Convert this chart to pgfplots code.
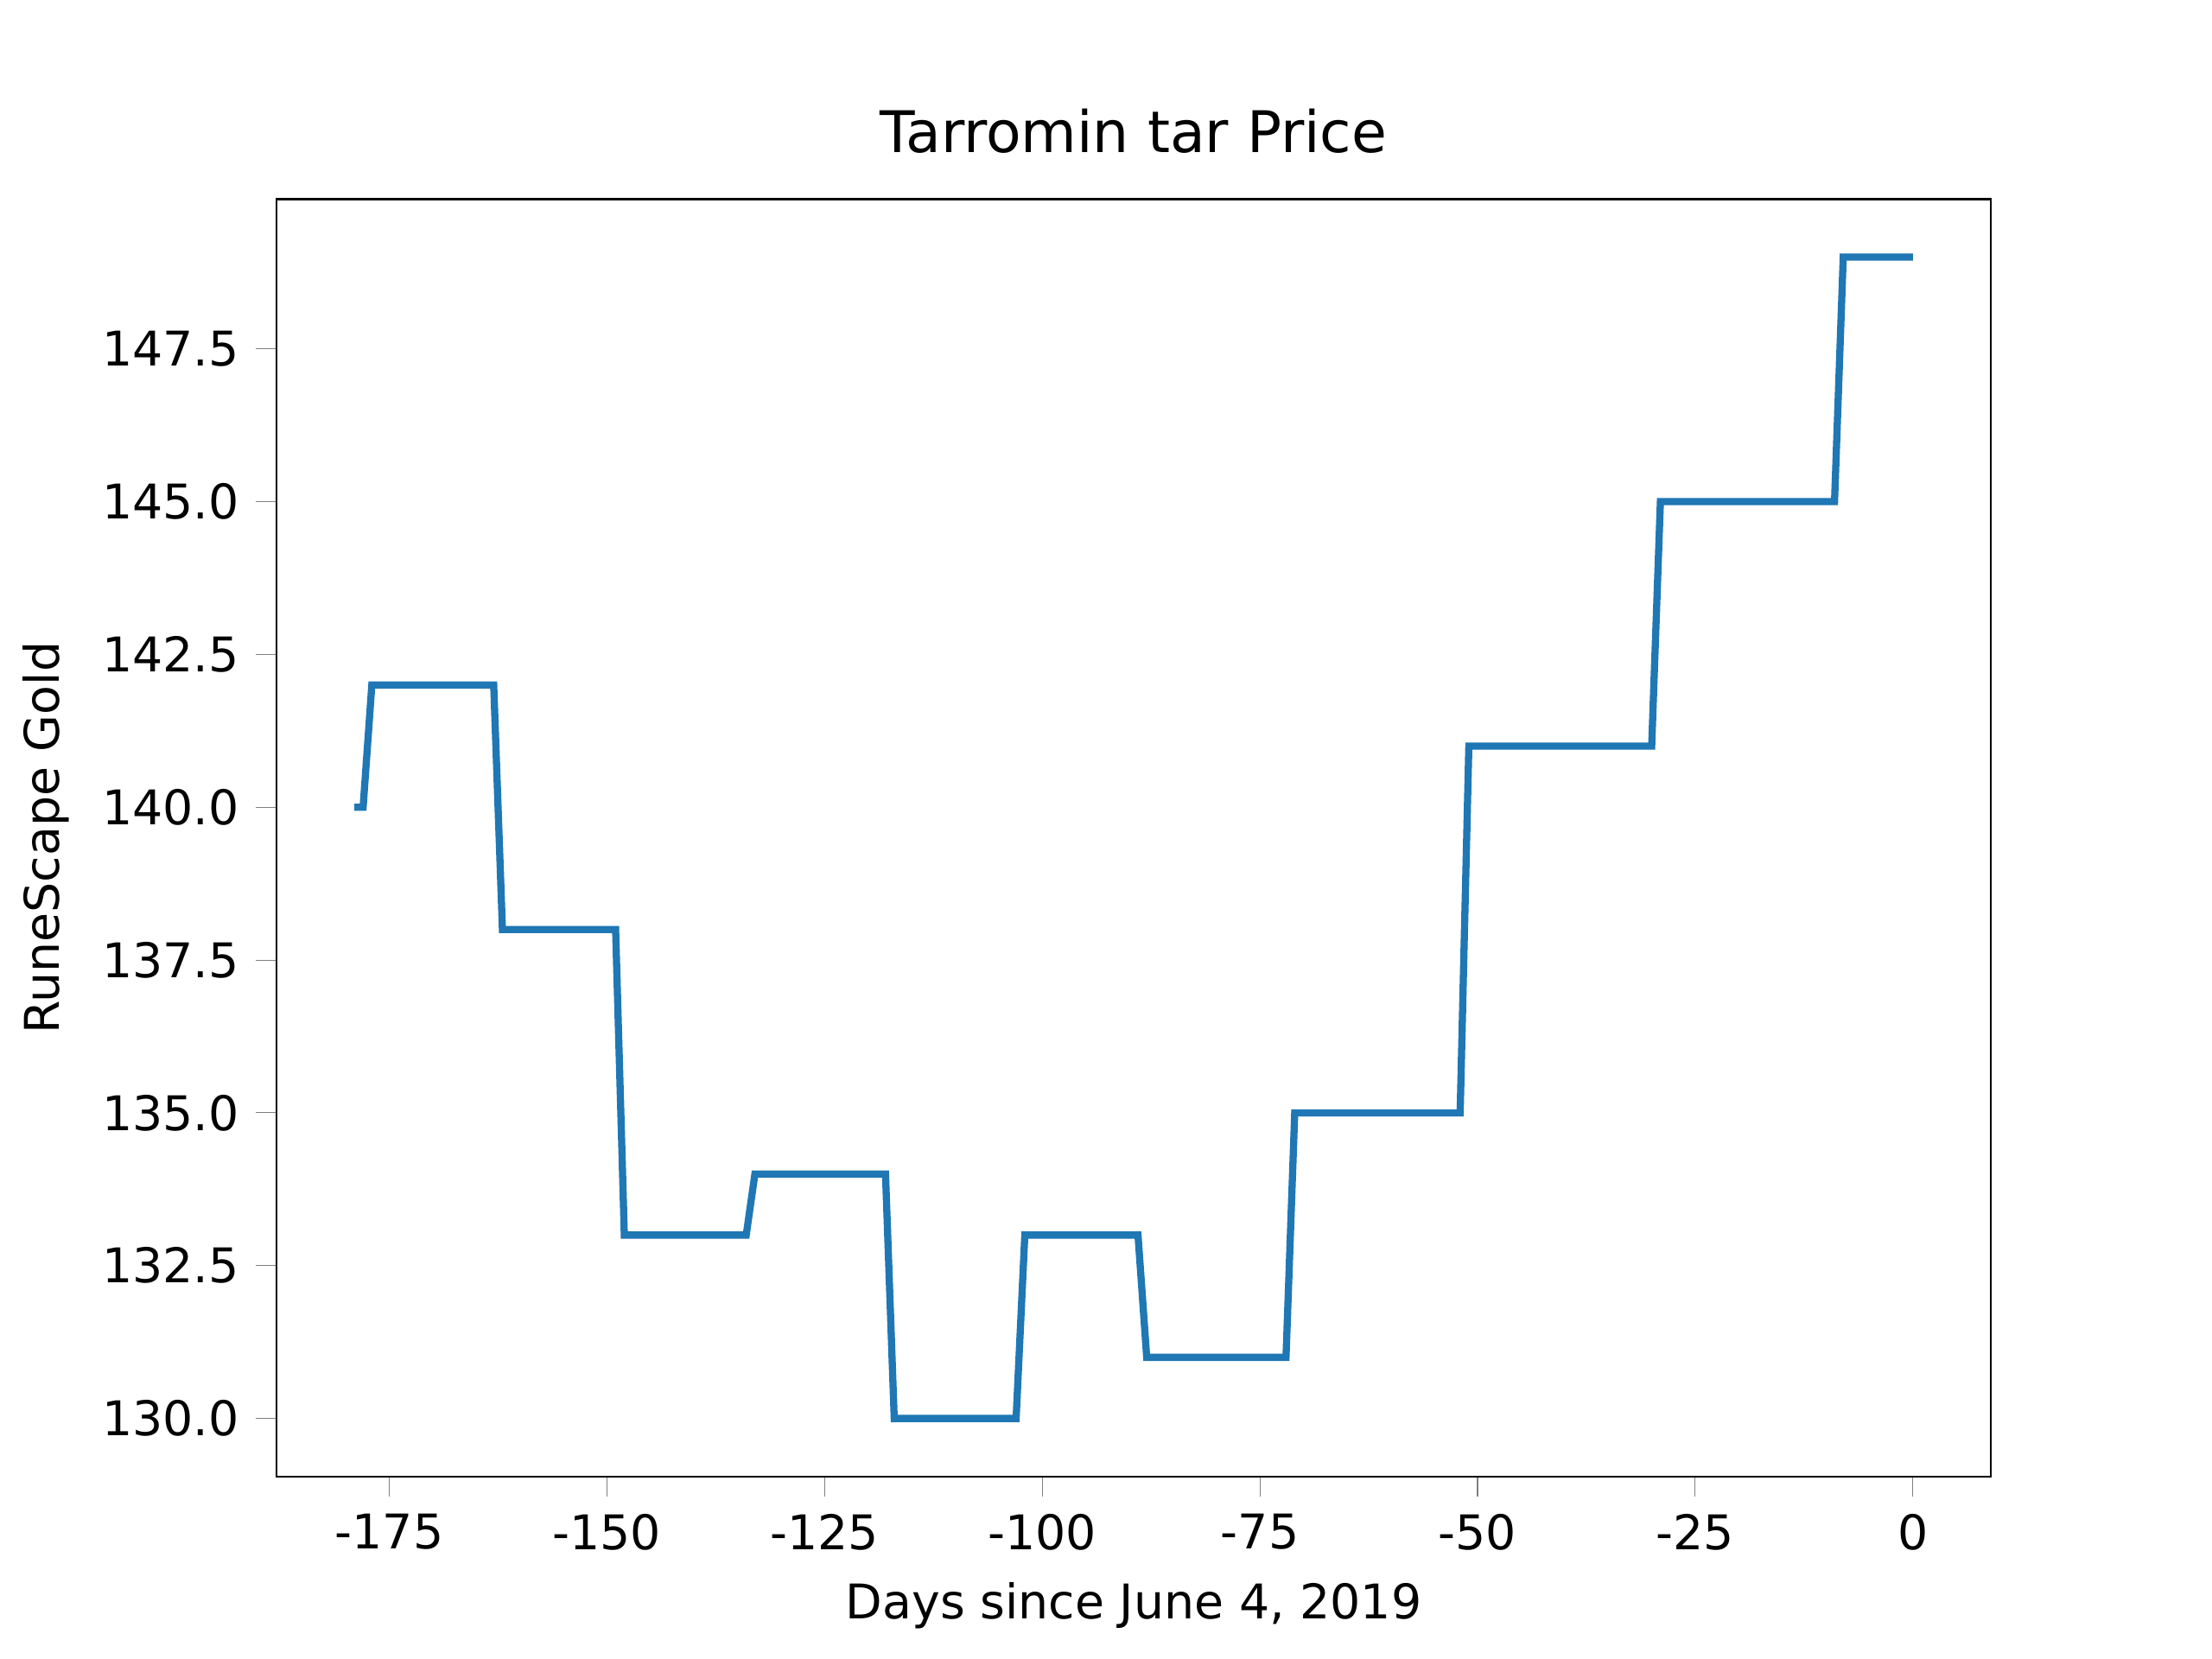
\documentclass[border=0pt]{standalone}
\usepackage{pgfplots}
\pgfplotsset{compat=1.18}
\usepackage{fontspec}
\setmainfont{DejaVu Sans}
\definecolor{mplblue}{HTML}{1F77B4}
\begin{document}
\begin{tikzpicture}
\useasboundingbox (-0.8in,-0.528in) rectangle (5.6in,4.272in);
\begin{axis}[
  at={(0,0)}, anchor=south west, scale only axis,
  width=4.96in, height=3.696in,
  xmin=-187.95, xmax=8.95, ymin=129.05, ymax=149.95,
  xtick={-175,-150,-125,-100,-75,-50,-25,0},
  ytick={130,132.5,135,137.5,140,142.5,145,147.5},
  yticklabel style={/pgf/number format/.cd,fixed,fixed zerofill,precision=1},
  /pgf/number format/assume math mode=true,
  tick align=outside, tick pos=left,
  ticklabel style={font=\fontsize{10}{12}\selectfont},
  title={Tarromin tar Price}, title style={font=\fontsize{12}{14}\selectfont},
  xlabel={Days since June 4, 2019}, ylabel={RuneScape Gold},
  label style={font=\fontsize{10}{12}\selectfont},
]
\addplot[mplblue, line width=1.5pt] coordinates {
(-179,140)(-178,140)(-177,142)(-163,142)(-162,138)(-149,138)(-148,133)(-134,133)(-133,134)
(-118,134)(-117,130)(-103,130)(-102,133)(-89,133)(-88,131)(-72,131)(-71,135)(-52,135)
(-51,141)(-30,141)(-29,145)(-9,145)(-8,149)(0,149)};
\end{axis}
\end{tikzpicture}
\end{document}
